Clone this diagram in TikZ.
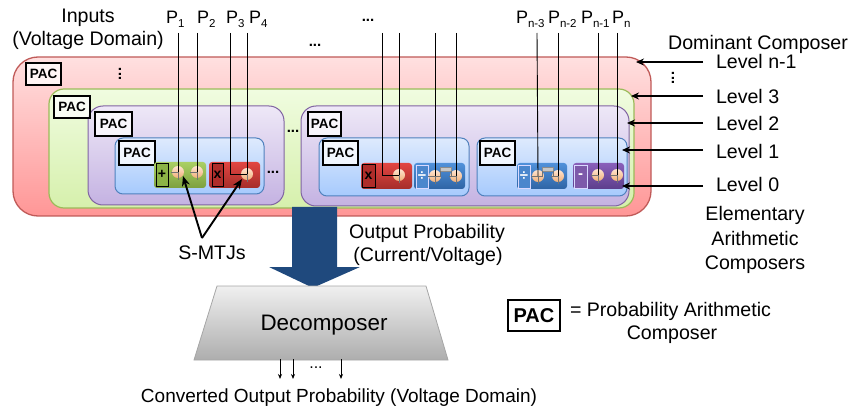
\documentclass[tikz,border=0pt]{standalone}
\usepackage{fontspec}
\setmainfont{Liberation Sans}
\usetikzlibrary{arrows.meta,shadings}
\definecolor{bluearrow}{HTML}{1F497D}
\definecolor{redline}{RGB}{192,90,88}\definecolor{redtop}{RGB}{255,224,224}\definecolor{redbot}{RGB}{255,150,150}
\definecolor{grnline}{RGB}{155,187,89}\definecolor{grntop}{RGB}{240,252,224}\definecolor{grnbot}{RGB}{214,240,172}
\definecolor{purline}{RGB}{128,100,162}\definecolor{purtop}{RGB}{238,232,247}\definecolor{purbot}{RGB}{196,178,226}
\definecolor{blueline}{RGB}{79,129,189}\definecolor{bluetop}{RGB}{222,234,253}\definecolor{bluebot}{RGB}{166,202,253}
\definecolor{ggtop}{RGB}{170,208,100}\definecolor{ggbot}{RGB}{125,160,62}
\definecolor{grtop}{RGB}{226,70,66}\definecolor{grbot}{RGB}{165,45,42}
\definecolor{gbtop}{RGB}{80,145,218}\definecolor{gbbot}{RGB}{46,100,165}
\definecolor{gptop}{RGB}{138,96,186}\definecolor{gpbot}{RGB}{92,62,140}
\definecolor{mtjtop}{RGB}{255,228,208}\definecolor{mtjbot}{RGB}{240,175,120}
\definecolor{opgreen}{RGB}{140,180,70}\definecolor{opred}{RGB}{175,45,42}\definecolor{opblue}{RGB}{75,135,205}\definecolor{oppurple}{RGB}{125,90,170}
\tikzset{
  base/.style={inner sep=0pt,outer sep=0pt,rectangle},
  lvlred/.style={base,draw=redline,line width=1.3pt,rounded corners=25pt,top color=redtop,bottom color=redbot},
  lvlgreen/.style={base,draw=grnline,line width=1.2pt,rounded corners=15pt,top color=grntop,bottom color=grnbot},
  lvlpurple/.style={base,draw=purline,line width=1pt,rounded corners=15pt,top color=purtop,bottom color=purbot},
  lvlblue/.style={base,draw=blueline,line width=1pt,rounded corners=8pt,top color=bluetop,bottom color=bluebot},
  gategreen/.style={base,rounded corners=3pt,top color=ggtop,bottom color=ggbot},
  gatered/.style={base,rounded corners=3pt,top color=grtop,bottom color=grbot},
  gateblue/.style={base,rounded corners=3pt,top color=gbtop,bottom color=gbbot},
  gatepurple/.style={base,rounded corners=3pt,top color=gptop,bottom color=gpbot},
  opblack/.style={base,draw=black,line width=.7pt,font=\bfseries\fontsize{14}{14}\selectfont},
  opwhite/.style={base,draw=white!85!blue,line width=.8pt,text=white,font=\bfseries\fontsize{15}{15}\selectfont},
  pacbox/.style={base,draw=black,line width=1.1pt,fill=white,fill opacity=.75,text opacity=1,font=\bfseries\fontsize{13.5}{13.5}\selectfont},
  smtj/.style={circle,inner sep=0pt,outer sep=0pt,minimum size=12pt,top color=mtjtop,bottom color=mtjbot},
  wire/.style={draw=black,line width=.9pt},
  tick/.style={draw=black!55,line width=.35pt},
  levelarrow/.style={draw=black,line width=1.6pt,-{Stealth[length=8pt,width=7pt]}},
  mtjarrow/.style={draw=black,line width=1.9pt,-{Stealth[length=10pt,width=8pt]}},
  outarrow/.style={draw=black,line width=.8pt,-{Stealth[length=5pt,width=4pt]}},
  lab/.style={inner sep=0pt,outer sep=0pt,text height=14pt,text depth=0pt,font=\fontsize{19.6}{19.6}\selectfont},
  plab/.style={inner sep=0pt,outer sep=0pt,anchor=base west,font=\fontsize{18}{18}\selectfont},
  dots/.style={inner sep=0pt,outer sep=0pt,font=\bfseries\fontsize{15}{15}\selectfont},
}
\newcommand{\bx}[7][]{%
  \pgfmathsetmacro{\bxw}{#5-#3}\pgfmathsetmacro{\bxh}{#6-#4}%
  \node[#1,anchor=north west,minimum width=\bxw pt,minimum height=\bxh pt] (#2) at (#3,#4) {#7};}
\newcommand{\psub}[1]{P\raisebox{-3.5pt}{\fontsize{11.5}{11.5}\selectfont #1}}
\begin{document}
\begin{tikzpicture}[x=1pt,y=-1pt]
\useasboundingbox (0,0) rectangle (852,409);
% nested levels
\bx[lvlred]{red}{13}{57}{651}{216}{}
\bx[lvlgreen]{green}{49}{89}{634}{208}{}
\bx[lvlpurple]{purA}{88}{106}{284}{205}{}
\bx[lvlpurple]{purB}{301}{106}{629}{206}{}
\bx[lvlblue]{bluA}{115}{138}{264}{194}{}
\bx[lvlblue]{bluB}{319}{138}{469}{196}{}
\bx[lvlblue]{bluC}{477}{138}{627}{196}{}
% PAC labels
\bx[pacbox]{pacR}{26}{63}{61}{85}{PAC}
\bx[pacbox]{pacG}{54}{96}{90}{118}{PAC}
\bx[pacbox]{pacPa}{95}{112}{132}{136}{PAC}
\bx[pacbox]{pacBa}{119}{141}{155}{165}{PAC}
\bx[pacbox]{pacPb}{308}{112}{341}{136}{PAC}
\bx[pacbox]{pacBb}{323}{141}{358}{165}{PAC}
\bx[pacbox]{pacBc}{480}{141}{515}{165}{PAC}
% gates
\bx[gategreen]{gA}{154}{162}{206}{188}{}
\bx[gatered]{gB}{209}{162}{260}{188}{}
\bx[gatered]{gC}{361}{163}{412}{189}{}
\bx[gateblue]{gD}{414}{163}{465}{189}{}
\bx[gateblue]{gE}{517}{163}{567}{189}{}
\bx[gatepurple]{gF}{573}{163}{624}{189}{}
% operators
\bx[opblack,fill=opgreen]{opA}{156}{163}{168}{186}{+}
\bx[opblack,fill=opred]{opB}{212}{163}{223}{186}{x}
\bx[opblack,fill=opred]{opC}{362}{164}{375}{187}{x}
\bx[opwhite,fill=opblue]{opD}{416}{165}{428}{188}{÷}
\bx[opwhite,fill=opblue]{opE}{518}{165}{530}{188}{÷}
\bx[opwhite,fill=oppurple]{opF}{574}{165}{587}{188}{-}
% S-MTJ circles
\node[smtj] (c1) at (178,172) {};
\node[smtj] (c2) at (197,172) {};
\node[smtj] (c4) at (247,174) {};
\node[smtj] (c6) at (399,175) {};
\node[smtj] (c7) at (435,176) {};
\node[smtj] (c8) at (456,176) {};
\node[smtj] (c9) at (538,176) {};
\node[smtj] (c10) at (558,176) {};
\node[smtj] (c11) at (598,175) {};
\node[smtj] (c12) at (617,175) {};
% ticks in the circles
\foreach \c in {c1,c2,c4,c6,c7,c8,c9,c10,c11,c12}{
  \draw[tick] ([xshift=-7pt]\c.center) -- (\c.center) -- ([yshift=-8pt]\c.center);
}
% bars between the divider circles
\bx[base,fill=black!22,draw=black!45,line width=.3pt]{barA}{440}{167}{451}{171}{}
\bx[base,fill=black!22,draw=black!45,line width=.3pt]{barB}{542}{167}{553}{171}{}
\draw[tick] (c7.center) -| (barA.south west);
\draw[tick] (c8.center) -| (barA.south east);
\draw[tick] (c9.center) -| (barB.south west);
\draw[tick] (c10.center) -| (barB.south east);
% wire tops
\foreach \n/\x in {1/178,2/197,3/230,4/247,5/382,6/399,7/435,8/456,9/537,10/558,11/598,12/617}{
  \coordinate (t\n) at (\x,33);
}
\foreach \n in {1,2,4,6,7,8,9,10,11,12}{ \draw[wire] (t\n) -- (c\n.center); }
\draw[wire] (t3) |- (c4.center);
\draw[wire] (t5) |- (c6.center);
% P labels
\node[plab] (p1) at (166,24) {\psub{1}};
\node[plab] (p2) at (197,24) {\psub{2}};
\node[plab] (p3) at (226,24) {\psub{3}};
\node[plab] (p4) at (249,24) {\psub{4}};
\node[plab] (p5) at (516,24) {\psub{n-3}};
\node[plab] (p6) at (548,24) {\psub{n-2}};
\node[plab] (p7) at (581,24) {\psub{n-1}};
\node[plab] (p8) at (612,24) {\psub{n}};
\node[lab] (inA) at (88,16) {Inputs};
\node[lab] (inB) at (88,39) {(Voltage Domain)};
% dots
\node[dots] (d1) at (315,45) {...};
\node[dots] (d2) at (368,20) {...};
\node[dots] (d3) at (293,131) {...};
\node[dots] (d4) at (273,172) {...};
\node[dots,rotate=90] (d5) at (120,74) {...};
\node[dots,rotate=90] (d6) at (673,78) {...};
% level labels and arrows
\node[lab] (dom) at (758,43) {Dominant Composer};
\node[lab,anchor=west] (ln) at (716,62) {Level n-1};
\node[lab,anchor=west] (l3) at (716,97) {Level 3};
\node[lab,anchor=west] (l2) at (716,124) {Level 2};
\node[lab,anchor=west] (l1) at (716,152) {Level 1};
\node[lab,anchor=west] (l0) at (716,185) {Level 0};
\coordinate (an) at (636,62);
\coordinate (a3) at (631,96);
\coordinate (a2) at (627,123);
\coordinate (a1) at (622,150);
\coordinate (a0) at (622,186);
\coordinate (bn) at (703,62);
\coordinate (b3) at (703,96);
\coordinate (b2) at (703,123);
\coordinate (b1) at (703,150);
\coordinate (b0) at (703,186);
\foreach \k in {n,3,2,1,0}{ \draw[levelarrow] (b\k) -- (a\k); }
\node[lab] (el1) at (755,214) {Elementary};
\node[lab] (el2) at (755,238) {Arithmetic};
\node[lab] (el3) at (755,262) {Composers};
% S-MTJ pointers
\coordinate (apex) at (202,238);
\node[lab] (sm) at (212,252) {S-MTJs};
\draw[mtjarrow] (apex) -- (183,176);
\draw[mtjarrow] (apex) -- (242,179);
% big arrow
\fill[bluearrow] (292,207) -- (337,207) -- (337,267) -- (360,267) -- (317,286) -- (309,286) -- (269,267) -- (292,267) -- cycle;
\node[lab] (op1) at (427,231) {Output Probability};
\node[lab] (op2) at (428,254) {(Current/Voltage)};
% decomposer
\draw[draw=black!35,line width=.8pt,top color=black!6,bottom color=black!32] (217,286) -- (426,286) -- (448,360) -- (194,360) -- cycle;
\node[inner sep=0pt,outer sep=0pt,font=\fontsize{22.4}{22.4}\selectfont] (dec) at (324,325) {Decomposer};
\foreach \n/\x in {1/280,2/293,3/341}{
  \coordinate (s\n) at (\x,359);
  \coordinate (e\n) at (\x,379);
  \draw[outarrow] (s\n) -- (e\n);
}
\node[inner sep=0pt,outer sep=0pt,font=\fontsize{16}{16}\selectfont] (od) at (316,368) {...};
\node[lab,font=\fontsize{19}{19}\selectfont] (conv) at (339,395) {Converted Output Probability (Voltage Domain)};
% legend
\bx[base,draw=black,line width=1.6pt,fill=white,font=\bfseries\fontsize{20}{20}\selectfont]{legpac}{508}{300}{560}{331}{PAC}
\node[lab,anchor=west] (leg1) at (570,309) {= Probability Arithmetic};
\node[lab] (leg2) at (672,332) {Composer};
\end{tikzpicture}
\end{document}
